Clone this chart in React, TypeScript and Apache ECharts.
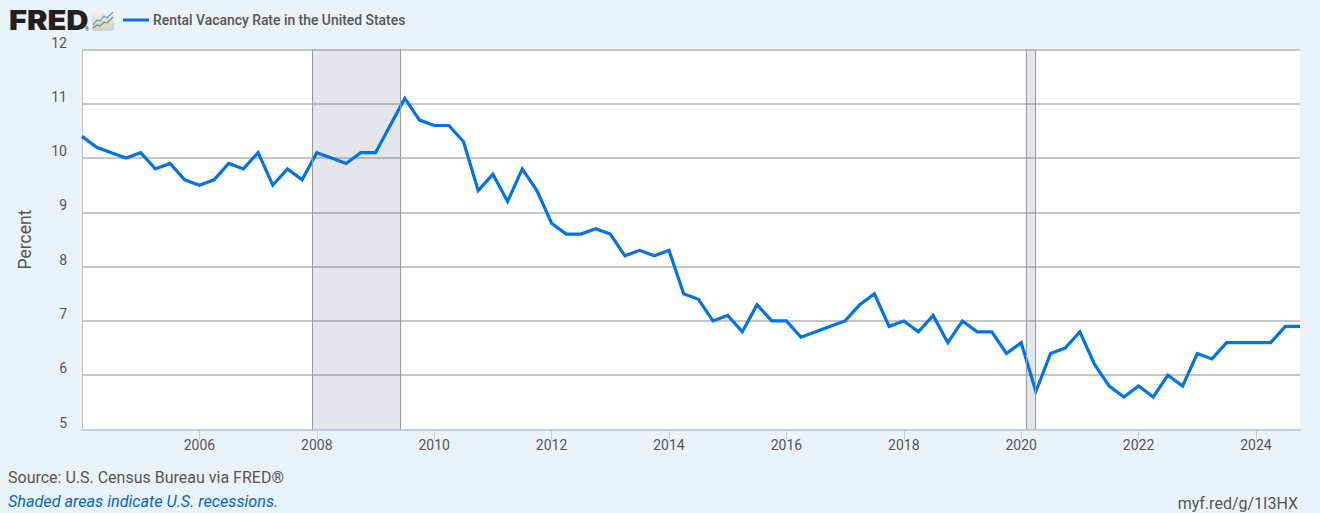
import React, { useEffect, useRef } from "react";
import * as echarts from "echarts";

const startYear = 2004;
const vacancyRate = [
  10.4, 10.2, 10.1, 10.0,
  10.1, 9.8, 9.9, 9.6,
  9.5, 9.6, 9.9, 9.8,
  10.1, 9.5, 9.8, 9.6,
  10.1, 10.0, 9.9, 10.1,
  10.1, 10.6, 11.1, 10.7,
  10.6, 10.6, 10.3, 9.4,
  9.7, 9.2, 9.8, 9.4,
  8.8, 8.6, 8.6, 8.7,
  8.6, 8.2, 8.3, 8.2,
  8.3, 7.5, 7.4, 7.0,
  7.1, 6.8, 7.3, 7.0,
  7.0, 6.7, 6.8, 6.9,
  7.0, 7.3, 7.5, 6.9,
  7.0, 6.8, 7.1, 6.6,
  7.0, 6.8, 6.8, 6.4,
  6.6, 5.7, 6.4, 6.5,
  6.8, 6.2, 5.8, 5.6,
  5.8, 5.6, 6.0, 5.8,
  6.4, 6.3, 6.6, 6.6,
  6.6, 6.6, 6.9, 6.9,
];
const yearTicks = [2006, 2008, 2010, 2012, 2014, 2016, 2018, 2020, 2022, 2024];
const recessions: [number, number][] = [
  [2007.917, 2009.417],
  [2020.077, 2020.245],
];
const seriesName = "Rental Vacancy Rate in the United States";
const FONT = "Roboto";

export default function App() {
  const ref = useRef<HTMLDivElement>(null);
  useEffect(() => {
    const chart = echarts.init(ref.current!, undefined, { renderer: "svg" });
    const points = vacancyRate.map((v, i) => [startYear + i * 0.25, v]);
    chart.setOption({
      animation: false,
      backgroundColor: "#ebf3fa",
      textStyle: { fontFamily: FONT },
      grid: { left: 82, right: 20, top: 49.5, bottom: 83.5, backgroundColor: "#ffffff", show: true, borderWidth: 0 },
      legend: {
        left: 118,
        top: 8,
        itemWidth: 26,
        itemHeight: 3,
        itemGap: 0,
        icon: "rect",
        textStyle: { fontFamily: FONT, fontSize: 13.9, fontWeight: 500, color: "#555555", padding: [0, 0, 0, -1] },
        data: [seriesName],
      },
      xAxis: {
        type: "value",
        min: startYear,
        max: 2024.75,
        interval: 2,
        splitLine: { show: false },
        axisLine: { lineStyle: { color: "#c0d0e0", width: 2 } },
        axisTick: { length: 10, lineStyle: { color: "#c0d0e0" }, customValues: yearTicks },
        axisLabel: {
          color: "#555555",
          fontSize: 14,
          margin: 8,
          customValues: yearTicks,
          formatter: (v: number) => String(v),
        },
      },
      yAxis: {
        type: "value",
        min: 5,
        max: 12,
        interval: 1,
        name: "Percent",
        nameLocation: "middle",
        nameGap: 48,
        nameRotate: 90,
        nameTextStyle: { color: "#555555", fontSize: 17.5, fontFamily: FONT },
        axisLine: { show: true, lineStyle: { color: "#c0c0c0", width: 1 } },
        axisTick: { show: false },
        splitLine: { lineStyle: { color: "#c6c6c6", width: 2 } },
        axisLabel: { color: "#555555", fontSize: 14, margin: 15, verticalAlign: "bottom", lineHeight: 14 },
      },
      series: [
        {
          name: seriesName,
          type: "line",
          data: points,
          symbol: "none",
          lineStyle: { color: "#0073e6", width: 3.2, join: "miter" },
          itemStyle: { color: "#0073e6" },
          markArea: {
            silent: true,
            itemStyle: { color: "rgba(88,111,138,0.17)", borderWidth: 0 },
            data: recessions.map(([a, b]) => [{ xAxis: a }, { xAxis: b }]),
          },
          markLine: {
            silent: true,
            symbol: "none",
            label: { show: false },
            lineStyle: { color: "#9a9a9a", width: 1, type: "solid" },
            data: recessions.flat().map((x) => ({ xAxis: x })),
          },
        },
      ],
      graphic: [
        {
          type: "text",
          x: 9,
          y: 7,
          scaleX: 1.14,
          style: { text: "FRED", fontFamily: "Inter", fontWeight: 900, fontSize: 27, fill: "#231f20" },
        },
        {
          type: "text",
          x: 85,
          y: 26,
          style: { text: "®", fontFamily: FONT, fontSize: 5, fill: "#231f20" },
        },
        {
          type: "rect",
          shape: { x: 92, y: 11, width: 22, height: 20, r: 2 },
          style: {
            fill: new echarts.graphic.LinearGradient(0, 0, 0, 1, [
              { offset: 0, color: "#f2f2f0" },
              { offset: 1, color: "#cfd1cc" },
            ]),
          },
        },
        {
          type: "polyline",
          shape: { points: [[93, 25], [97, 20], [100, 21], [104, 16], [107, 18], [113, 12]] },
          style: { stroke: "#6f95b0", lineWidth: 1.2, fill: "none" },
        },
        {
          type: "polyline",
          shape: { points: [[93, 28], [97, 25], [100, 26], [104, 22], [107, 23], [113, 17]] },
          style: { stroke: "#6f9a3c", lineWidth: 1.2, fill: "none" },
        },
        {
          type: "text",
          left: 8,
          top: 469,
          style: { text: "Source: U.S. Census Bureau via FRED®", fontFamily: FONT, fontSize: 16, fill: "#555555" },
        },
        {
          type: "text",
          left: 8,
          top: 493,
          style: { text: "Shaded areas indicate U.S. recessions.", fontFamily: FONT, fontStyle: "italic", fontSize: 16.2, fill: "#0066cc" },
        },
        {
          type: "text",
          right: 22,
          top: 495,
          style: { text: "myf.red/g/1I3HX", fontFamily: FONT, fontSize: 16, fill: "#555555" },
        },
      ],
    });
    return () => chart.dispose();
  }, []);
  return <div ref={ref} style={{ position: "fixed", left: 0, top: 0, width: 1320, height: 513 }} />;
}
